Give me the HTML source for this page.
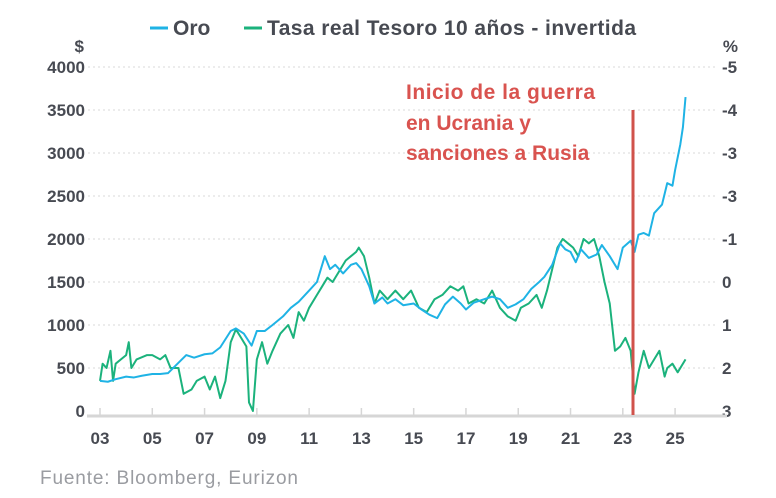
<!DOCTYPE html>
<html><head><meta charset="utf-8"><style>
body{margin:0;background:#fff;font-family:"Liberation Sans",sans-serif;}
svg text{font-family:"Liberation Sans",sans-serif;}
</style></head><body>
<svg id="chart" width="776" height="493">
<g>
 <line x1="150" y1="28" x2="168" y2="28" stroke="#1fb3e5" stroke-width="3"/>
 <text x="173" y="35" font-size="21" font-weight="bold" fill="#474a52">Oro</text>
 <line x1="244" y1="28" x2="262" y2="28" stroke="#1bb27c" stroke-width="3"/>
 <text x="267" y="35" font-size="21" font-weight="bold" fill="#474a52" textLength="369">Tasa real Tesoro 10 años - invertida</text>
</g>
<text x="84" y="52" font-size="17" font-weight="bold" fill="#474a52" text-anchor="end">$</text>
<text x="738" y="52" font-size="17" font-weight="bold" fill="#474a52" text-anchor="end">%</text>
<g id="grid"></g><g id="xaxis"></g><g id="series"></g>
<g>
 <line x1="633" y1="110" x2="633" y2="415" stroke="#d0524b" stroke-width="3"/>
 <text font-size="21" font-weight="bold" fill="#d9534f">
  <tspan x="406" y="99" textLength="189">Inicio de la guerra</tspan><tspan x="406" y="130">en Ucrania y</tspan><tspan x="406" y="160">sanciones a Rusia</tspan></text>
</g>
<text x="40" y="484" font-size="19" fill="#9a9ca1" textLength="258">Fuente: Bloomberg, Eurizon</text>
</svg>
<script>
const leftTicks=[0,500,1000,1500,2000,2500,3000,3500,4000];
const rightTickLabels=["3","2","1","0","-1","-3","-3","-4","-5"];
const xTickYears=[2003,2005,2007,2009,2011,2013,2015,2017,2019,2021,2023,2025];
const goldDates=[2003.0,2003.3,2003.6,2004.0,2004.3,2004.6,2005.0,2005.3,2005.6,2006.0,2006.3,2006.6,2007.0,2007.3,2007.6,2008.0,2008.2,2008.5,2008.8,2009.0,2009.3,2009.6,2010.0,2010.3,2010.6,2011.0,2011.3,2011.6,2011.8,2012.0,2012.3,2012.6,2012.8,2013.0,2013.3,2013.5,2013.8,2014.0,2014.3,2014.6,2015.0,2015.3,2015.6,2015.9,2016.2,2016.5,2016.8,2017.0,2017.3,2017.6,2018.0,2018.3,2018.6,2018.9,2019.2,2019.5,2019.8,2020.0,2020.3,2020.6,2020.8,2021.0,2021.2,2021.4,2021.7,2022.0,2022.2,2022.5,2022.8,2023.0,2023.3,2023.45,2023.6,2023.8,2024.0,2024.2,2024.5,2024.7,2024.9,2025.0,2025.2,2025.3,2025.4];
const goldValues=[350,340,370,400,390,410,430,430,440,560,650,620,660,670,740,930,960,900,760,930,930,1000,1100,1200,1270,1400,1500,1800,1650,1700,1600,1700,1720,1650,1450,1250,1320,1250,1300,1230,1250,1180,1120,1080,1240,1330,1250,1180,1260,1290,1330,1300,1200,1240,1300,1420,1500,1560,1700,1950,1880,1850,1730,1880,1780,1820,1930,1800,1650,1900,1980,1850,2050,2070,2040,2300,2400,2650,2620,2800,3100,3300,3650];
const yieldDates=[2003.0,2003.1,2003.25,2003.4,2003.5,2003.6,2003.8,2004.0,2004.1,2004.2,2004.4,2004.8,2005.0,2005.3,2005.5,2005.7,2006.0,2006.2,2006.5,2006.7,2007.0,2007.2,2007.4,2007.6,2007.8,2008.0,2008.2,2008.4,2008.6,2008.7,2008.85,2009.0,2009.2,2009.4,2009.6,2009.9,2010.2,2010.4,2010.6,2010.8,2011.0,2011.3,2011.5,2011.7,2011.9,2012.2,2012.4,2012.6,2012.8,2012.9,2013.1,2013.3,2013.5,2013.7,2014.0,2014.3,2014.6,2014.9,2015.2,2015.5,2015.8,2016.1,2016.4,2016.7,2016.9,2017.1,2017.4,2017.7,2018.0,2018.3,2018.6,2018.9,2019.1,2019.4,2019.7,2019.9,2020.1,2020.3,2020.5,2020.7,2020.9,2021.1,2021.3,2021.5,2021.7,2021.9,2022.1,2022.3,2022.5,2022.7,2022.9,2023.1,2023.3,2023.45,2023.6,2023.8,2024.0,2024.2,2024.4,2024.6,2024.7,2024.9,2025.1,2025.4];
const yieldValues=[2.3,1.9,2.0,1.6,2.3,1.9,1.8,1.7,1.4,2.0,1.8,1.7,1.7,1.8,1.7,2.0,2.0,2.6,2.5,2.3,2.2,2.5,2.2,2.7,2.3,1.4,1.1,1.3,1.5,2.8,3.0,1.8,1.4,1.9,1.6,1.2,1.0,1.3,0.7,0.9,0.6,0.3,0.1,-0.1,0.0,-0.3,-0.5,-0.6,-0.7,-0.8,-0.6,-0.1,0.5,0.2,0.4,0.2,0.4,0.2,0.6,0.7,0.4,0.3,0.1,0.2,0.1,0.5,0.4,0.5,0.2,0.6,0.8,0.9,0.6,0.5,0.3,0.6,0.2,-0.3,-0.8,-1.0,-0.9,-0.8,-0.6,-1.0,-0.9,-1.0,-0.6,0.0,0.5,1.6,1.5,1.3,1.6,2.6,2.1,1.6,2.0,1.8,1.6,2.2,2.0,1.9,2.1,1.8];
const NS="http://www.w3.org/2000/svg";
const xS=t=>100+(t-2003)*26.14;
const yL=v=>411-v*0.086;
const yR=r=>282+r*43;
function mk(tag,attrs,parent){const e=document.createElementNS(NS,tag);for(const k in attrs)e.setAttribute(k,attrs[k]);parent.appendChild(e);return e;}
const grid=document.getElementById('grid');
leftTicks.forEach((v,i)=>{
 const y=yL(v);
 if(v>0){const l=mk('line',{x1:88,x2:716,y1:y,y2:y,stroke:'#d8d8d8','stroke-width':1,'stroke-dasharray':'2,3'},grid);
 
 }
 const t=mk('text',{x:85,y:y+6,'font-size':17,'font-weight':'bold',fill:'#474a52','text-anchor':'end'},grid);t.textContent=v;
 
 
 const r=mk('text',{x:722,y:y+6,'font-size':17,'font-weight':'bold',fill:'#474a52'},grid);r.textContent=rightTickLabels[i];
 
 
});
const xa=document.getElementById('xaxis');
const base=mk('line',{x1:87,x2:727,y1:416,y2:416,stroke:'#d6d6d6','stroke-width':3},xa);


xTickYears.forEach(yr=>{
 const x=xS(yr);
 const tk=mk('line',{x1:x,x2:x,y1:408,y2:416,stroke:'#d6d6d6','stroke-width':1.5},xa);
 
 
 const t=mk('text',{x:x,y:444,'font-size':17,'font-weight':'bold',fill:'#474a52','text-anchor':'middle'},xa);
 t.textContent=String(yr).slice(2);
 
 
});
const s=document.getElementById('series');
const gy=mk('polyline',{points:yieldDates.map((d,i)=>xS(d)+','+yR(yieldValues[i])).join(' '),fill:'none',stroke:'#1bb27c','stroke-width':2,'stroke-linejoin':'round'},s);


const gg=mk('polyline',{points:goldDates.map((d,i)=>xS(d)+','+yL(goldValues[i])).join(' '),fill:'none',stroke:'#1fb3e5','stroke-width':2,'stroke-linejoin':'round'},s);


</script>
</body></html>
